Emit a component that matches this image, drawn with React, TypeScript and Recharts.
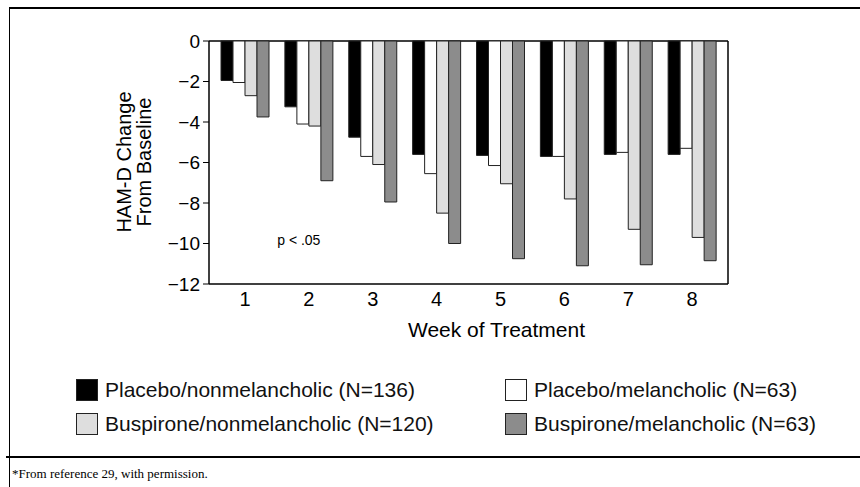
import { Bar, BarChart, CartesianGrid, Label, ReferenceDot, XAxis, YAxis } from "recharts";

const weeks = ["1", "2", "3", "4", "5", "6", "7", "8"];
const placeboNonmel = [-1.95, -3.25, -4.75, -5.6, -5.65, -5.7, -5.6, -5.6];
const placeboMel = [-2.05, -4.1, -5.7, -6.55, -6.15, -5.7, -5.5, -5.3];
const buspNonmel = [-2.7, -4.2, -6.1, -8.5, -7.05, -7.8, -9.3, -9.7];
const buspMel = [-3.75, -6.9, -7.95, -10.0, -10.75, -11.1, -11.05, -10.85];
const yTicks = [0, -2, -4, -6, -8, -10, -12];

const series = [
  { key: "placeboNonmel", name: "Placebo/nonmelancholic (N=136)", fill: "#000000" },
  { key: "placeboMel", name: "Placebo/melancholic (N=63)", fill: "#ffffff" },
  { key: "buspNonmel", name: "Buspirone/nonmelancholic (N=120)", fill: "#dedede" },
  { key: "buspMel", name: "Buspirone/melancholic (N=63)", fill: "#8c8c8c" },
];

const data = weeks.map((w, i) => ({
  week: w,
  placeboNonmel: placeboNonmel[i],
  placeboMel: placeboMel[i],
  buspNonmel: buspNonmel[i],
  buspMel: buspMel[i],
}));

const FONT = "'Liberation Sans', Arial, Helvetica, sans-serif";

const fmt = (v: number) => (v < 0 ? `\u2212${-v}` : `${v}`);

// top and right edges of the plot box
const boxTop = ({ offset }: any) => [offset.top];
const boxRight = ({ offset }: any) => [offset.left + offset.width];

function YLabel() {
  return (
    <g fontFamily={FONT} fontSize={20} fill="#000">
      <text transform="translate(131,162) rotate(-90)" textAnchor="middle">
        HAM-D Change
      </text>
      <text transform="translate(151,162) rotate(-90)" textAnchor="middle">
        From Baseline
      </text>
    </g>
  );
}

function LegendItem({ name, fill, left, top }: { name: string; fill: string; left: number; top: number }) {
  return (
    <div style={{ position: "absolute", left, top, display: "flex", alignItems: "center", height: 22 }}>
      <div style={{ width: 20, height: 20, background: fill, border: "1px solid #222" }} />
      <span style={{ marginLeft: 7, fontSize: 21, fontFamily: FONT, color: "#111", whiteSpace: "nowrap" }}>
        {name}
      </span>
    </div>
  );
}

export default function App() {
  return (
    <div style={{ position: "absolute", left: 0, top: 0, width: 860, height: 487, background: "#fff" }}>
      {/* page frame */}
      <div
        style={{
          position: "absolute",
          left: 9,
          top: 7,
          width: 851,
          height: 480,
          boxSizing: "border-box",
          borderTop: "2px solid #000",
          borderLeft: "1.5px solid #000",
        }}
      />
      <div style={{ position: "absolute", left: 6, top: 456, width: 854, height: 1.5, background: "#000" }} />

      <BarChart
        width={860}
        height={487}
        data={data}
        margin={{ top: 41, right: 132, bottom: 143, left: 149 }}
        barCategoryGap={8}
        barGap={0}
        style={{ position: "absolute", left: 0, top: 0 }}
      >
        <CartesianGrid
          stroke="#000"
          strokeWidth={1.5}
          horizontalCoordinatesGenerator={boxTop}
          verticalCoordinatesGenerator={boxRight}
        />
        <XAxis
          dataKey="week"
          padding={{ left: 4, right: 4 }}
          tickLine={false}
          axisLine={{ stroke: "#000", strokeWidth: 1.5 }}
          tick={{ fill: "#000", fontSize: 20, fontFamily: FONT }}
          tickSize={6}
          height={60}
        >
          <Label
            value="Week of Treatment"
            position="insideBottom"
            offset={7}
            dx={28}
            style={{ fill: "#000", fontSize: 21, fontFamily: FONT }}
          />
        </XAxis>
        <YAxis
          domain={[-12, 0]}
          ticks={yTicks}
          tickFormatter={fmt}
          interval={0}
          width={60}
          tickSize={6}
          tickMargin={3}
          axisLine={{ stroke: "#000", strokeWidth: 1.5 }}
          tickLine={{ stroke: "#000" }}
          tick={{ fill: "#000", fontSize: 19, fontFamily: FONT }}
          label={{ content: () => <YLabel /> }}
        />
        {series.map((s) => (
          <Bar
            key={s.key}
            dataKey={s.key}
            name={s.name}
            fill={s.fill}
            stroke="#222"
            strokeWidth={1}
            isAnimationActive={false}
          />
        ))}
        <ReferenceDot
          x="2"
          y={-10}
          r={0}
          fill="none"
          stroke="none"
          label={{ value: "p < .05", position: "center", dx: -10, dy: -3, fill: "#000", fontSize: 14, fontFamily: FONT }}
        />
      </BarChart>

      <LegendItem name={series[0].name} fill={series[0].fill} left={76} top={379} />
      <LegendItem name={series[2].name} fill={series[2].fill} left={76} top={413} />
      <LegendItem name={series[1].name} fill={series[1].fill} left={505} top={379} />
      <LegendItem name={series[3].name} fill={series[3].fill} left={505} top={413} />

      <div
        style={{
          position: "absolute",
          left: 12,
          top: 466,
          fontFamily: "'Liberation Serif', 'Times New Roman', serif",
          fontSize: 13,
          color: "#000",
          whiteSpace: "nowrap",
        }}
      >
        *From reference 29, with permission.
      </div>
    </div>
  );
}
